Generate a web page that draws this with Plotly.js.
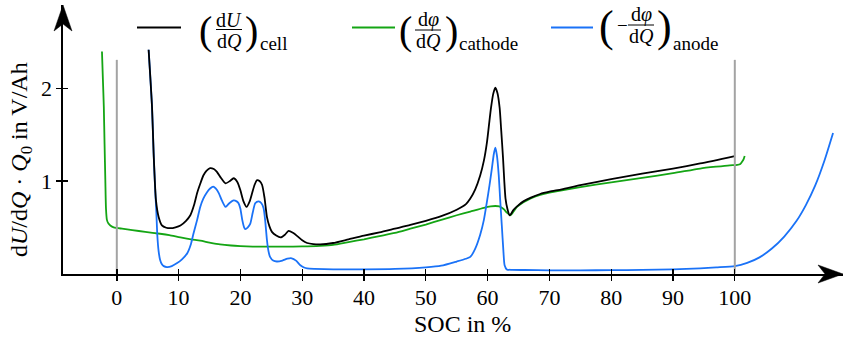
<!DOCTYPE html>
<html>
<head>
<meta charset="utf-8">
<script src="https://cdn.plot.ly/plotly-3.0.1.min.js"></script>
<style>
  html, body { margin: 0; padding: 0; background: #fff; }
  #chart { width: 844px; height: 339px; }
</style>
</head>
<body>
<div id="chart"></div>
<script>
// Differential voltage curves over state of charge (SOC in %)

// cell: dU/dQ
const cellSoc = [5.15, 5.7, 5.96, 6.34, 6.77, 7.3, 8.0, 8.7, 9.5, 10.3, 11.2, 11.9, 12.5, 13.0, 13.5, 14.0, 14.5, 15.1, 15.7, 16.2, 16.9, 17.6, 18.3, 18.9, 19.5, 20.0, 20.5, 21.0, 21.5, 21.9, 22.3, 22.7, 23.1, 23.5, 23.9, 24.3, 24.7, 25.1, 25.8, 26.5, 27.2, 27.8, 28.5, 29.2, 30.0, 30.8, 31.8, 32.9, 35, 37.5, 40, 42.5, 45, 47.5, 50, 52.5, 55, 56.5, 57.2, 58.0, 58.8, 59.4, 59.9, 60.3, 60.55, 60.9, 61.25, 61.6, 61.95, 62.2, 62.5, 62.7, 62.9, 63.2, 63.55, 63.8, 64.2, 65.0, 65.8, 67, 68.5, 70, 72, 75, 80, 85, 90, 94.4, 100];
const cellVal = [2.42, 1.80, 1.30, 0.79, 0.61, 0.52, 0.495, 0.49, 0.50, 0.52, 0.57, 0.63, 0.74, 0.87, 0.97, 1.06, 1.11, 1.14, 1.13, 1.10, 1.03, 0.975, 1.0, 1.03, 0.99, 0.90, 0.78, 0.72, 0.78, 0.87, 0.96, 1.01, 1.00, 0.96, 0.82, 0.61, 0.51, 0.45, 0.41, 0.39, 0.42, 0.46, 0.44, 0.405, 0.36, 0.33, 0.318, 0.315, 0.33, 0.37, 0.41, 0.445, 0.485, 0.525, 0.57, 0.62, 0.69, 0.75, 0.81, 0.91, 1.06, 1.22, 1.42, 1.65, 1.79, 1.94, 2.01, 1.95, 1.79, 1.55, 1.245, 1.0, 0.81, 0.70, 0.63, 0.645, 0.69, 0.74, 0.78, 0.82, 0.86, 0.885, 0.91, 0.955, 1.02, 1.08, 1.135, 1.19, 1.27];

// cathode: dphi/dQ
const cathodeSoc = [-2.4, -2.25, -2.1, -1.98, -1.86, -1.75, -1.6, -1.35, -1.05, -0.5, 0.84, 2.5, 4.6, 7.0, 8.5, 10.3, 12.0, 13.5, 15.0, 16.7, 18.5, 20, 22, 24.3, 27, 30, 32.9, 35, 37.5, 40, 42.5, 45, 47.5, 50, 52.5, 55, 57.2, 59.4, 60.5, 61.25, 61.9, 62.3, 62.7, 63.1, 63.7, 64.2, 64.75, 65.8, 66.9, 68.5, 70, 75, 80, 85, 90, 94.4, 97, 99.2, 100.4, 100.9, 101.2, 101.45, 101.6];
const cathodeVal = [2.40, 2.10, 1.80, 1.40, 1.02, 0.70, 0.58, 0.54, 0.52, 0.50, 0.485, 0.47, 0.45, 0.43, 0.415, 0.39, 0.37, 0.355, 0.335, 0.315, 0.303, 0.297, 0.292, 0.29, 0.29, 0.293, 0.30, 0.31, 0.34, 0.37, 0.405, 0.44, 0.485, 0.53, 0.58, 0.63, 0.67, 0.71, 0.725, 0.73, 0.725, 0.71, 0.69, 0.66, 0.63, 0.67, 0.72, 0.77, 0.81, 0.85, 0.875, 0.935, 0.985, 1.035, 1.085, 1.135, 1.155, 1.17, 1.175, 1.185, 1.21, 1.24, 1.27];

// anode: -dphi/dQ
const anodeSoc = [5.15, 5.7, 5.96, 6.2, 6.4, 6.55, 6.77, 7.0, 7.3, 7.6, 8.1, 8.9, 9.7, 10.5, 11.4, 12.0, 12.4, 13.0, 13.5, 14.0, 14.6, 15.1, 15.6, 16.0, 16.5, 17.0, 17.6, 18.2, 18.9, 19.4, 19.7, 20.0, 20.3, 20.6, 20.8, 21.2, 21.6, 22.0, 22.4, 22.95, 23.4, 23.75, 24.0, 24.3, 24.55, 24.8, 25.3, 25.9, 26.8, 27.6, 28.3, 29.0, 29.7, 30.3, 30.8, 32, 35, 40, 45, 50, 52.5, 55, 56.5, 57.2, 58.0, 58.8, 59.4, 59.9, 60.3, 60.7, 61.0, 61.25, 61.5, 61.8, 62.05, 62.3, 62.55, 62.75, 63.1, 64, 66, 70, 75, 80, 85, 90, 94.4, 97, 100, 102, 104, 106, 108, 110, 111.5, 113, 114.5, 115.9];
const anodeVal = [2.42, 1.80, 1.30, 0.92, 0.66, 0.42, 0.24, 0.15, 0.10, 0.08, 0.07, 0.08, 0.11, 0.15, 0.22, 0.32, 0.43, 0.58, 0.72, 0.81, 0.88, 0.92, 0.94, 0.92, 0.87, 0.79, 0.72, 0.76, 0.79, 0.78, 0.76, 0.70, 0.58, 0.50, 0.48, 0.50, 0.54, 0.66, 0.76, 0.78, 0.76, 0.705, 0.58, 0.36, 0.24, 0.18, 0.14, 0.13, 0.14, 0.16, 0.165, 0.14, 0.09, 0.065, 0.055, 0.05, 0.045, 0.045, 0.05, 0.067, 0.085, 0.13, 0.16, 0.18, 0.27, 0.42, 0.58, 0.78, 0.95, 1.14, 1.29, 1.36, 1.28, 1.065, 0.78, 0.52, 0.25, 0.09, 0.045, 0.04, 0.038, 0.035, 0.035, 0.036, 0.04, 0.045, 0.056, 0.066, 0.08, 0.115, 0.175, 0.27, 0.40, 0.57, 0.74, 0.95, 1.22, 1.52];

// SOC limits (0 % and 100 %) marked with grey verticals
const socLimits = [0, 100];
const limitTop = 2.31;

const xTicks = [0, 10, 20, 30, 40, 50, 60, 70, 80, 90, 100];
const yTicks = [1, 2];

const BLACK = '#000000';
const GREEN = '#14a514';
const BLUE = '#1a72f7';
const GREY = '#a3a3a3';
const SERIF = 'Liberation Serif, Times New Roman, serif';

// plot area in pixels
const W = 844, H = 339;
const M = { l: 63, r: 1, t: 5, b: 65 };
const PW = W - M.l - M.r, PH = H - M.t - M.b;
const px = (x) => (x - M.l) / PW;
const py = (y) => (H - M.b - y) / PH;

const limX = [], limY = [];
socLimits.forEach((s, i) => {
  if (i) { limX.push(null); limY.push(null); }
  limX.push(s, s); limY.push(0, limitTop);
});

const curve = (color) => ({ color: color, width: 1.8, shape: 'spline', smoothing: 0.6 });
const traces = [
  { x: limX, y: limY, xaxis: 'x2', yaxis: 'y2', mode: 'lines', line: { color: GREY, width: 2 }, hoverinfo: 'skip' },
  { x: cathodeSoc, y: cathodeVal, mode: 'lines', line: curve(GREEN) },
  { x: anodeSoc, y: anodeVal, mode: 'lines', line: curve(BLUE) },
  { x: cellSoc, y: cellVal, mode: 'lines', line: curve(BLACK) }
];

const xLo = -(116.8 - M.l) / 6.18;
const xRange = [xLo, xLo + PW / 6.18];
const yRange = [-0.005, -0.005 + PH / 92.5];

const baseAxis = {
  showgrid: false, zeroline: false, showline: true, linecolor: BLACK, linewidth: 1.6,
  ticks: 'outside', ticklen: 5, tickwidth: 1.4, tickcolor: BLACK,
  tickfont: { family: SERIF, size: 22, color: BLACK }, fixedrange: true
};

// legend entries: sample line, bracketed fraction, subscript
const ann = [];
const shapes = [];
function text(txt, x, y, size, xa, ya) {
  ann.push({ xref: 'paper', yref: 'paper', x: px(x), y: py(y), text: txt, showarrow: false,
    xanchor: xa || 'center', yanchor: ya || 'middle', borderpad: 0,
    font: { family: SERIF, size: size, color: BLACK } });
}
function legendItem(o) {
  shapes.push({ type: 'line', xref: 'paper', yref: 'paper', x0: px(o.x0), x1: px(o.x1), y0: py(27.5), y1: py(27.5), line: { color: o.color, width: 1.8 } });
  text('(', o.lp, o.fy + 1, o.ps);
  text(')', o.rp, o.fy + 1, o.ps);
  if (o.minus) text('\u2212', o.minus, o.fy, 19);
  text(o.numer, o.nx, o.fy + 2, 20, 'center', 'bottom');
  text('d<i>Q</i>', o.nx, o.fy - 1, 20, 'center', 'top');
  shapes.push({ type: 'line', xref: 'paper', yref: 'paper', x0: px(o.nx - 13), x1: px(o.nx + 13), y0: py(o.fy), y1: py(o.fy), line: { color: BLACK, width: 1 } });
  text(o.sub, o.sx, 43, 19, 'left');
}
legendItem({ x0: 137, x1: 181, color: BLACK, lp: 205, numer: 'd<i>U</i>', nx: 229, fy: 29.5, rp: 251, sub: 'cell', sx: 259, ps: 40 });
legendItem({ x0: 352, x1: 395, color: GREEN, lp: 405, numer: 'd<i>\u03c6</i>', nx: 428, fy: 30, rp: 451, sub: 'cathode', sx: 458, ps: 40 });
legendItem({ x0: 551, x1: 593, color: BLUE, lp: 606, numer: 'd<i>\u03c6</i>', nx: 641, fy: 25, rp: 664, sub: 'anode', sx: 672, ps: 44, minus: 622 });

// axis titles
text('SOC in %', 463, 324, 24);
ann.push({ xref: 'paper', yref: 'paper', x: px(21), y: py(160), text: 'd<i>U</i>/d<i>Q</i> \u00b7 <i>Q</i><sub>0</sub> in V/Ah', textangle: -90, showarrow: false, xanchor: 'center', yanchor: 'middle', font: { family: SERIF, size: 24, color: BLACK } });

// arrow heads at the axis ends
shapes.push({ type: 'path', xref: 'paper', yref: 'paper', xsizemode: 'pixel', ysizemode: 'pixel', xanchor: 1, yanchor: 0,
  path: 'M0,0 L-25,9 L-18,0 L-25,-9 Z', fillcolor: BLACK, line: { color: BLACK, width: 0.5 } });
shapes.push({ type: 'path', xref: 'paper', yref: 'paper', xsizemode: 'pixel', ysizemode: 'pixel', xanchor: 0, yanchor: 1,
  path: 'M0,0 L-9,-26 L0,-19 L9,-26 Z', fillcolor: BLACK, line: { color: BLACK, width: 0.5 } });

const layout = {
  width: W, height: H,
  margin: M,
  paper_bgcolor: '#fff', plot_bgcolor: '#fff',
  font: { family: SERIF, color: BLACK },
  showlegend: false,
  xaxis: Object.assign({}, baseAxis, { range: xRange, tickvals: xTicks, ticktext: xTicks.map(String), ticklabelstandoff: -2 }),
  yaxis: Object.assign({}, baseAxis, { range: yRange, tickvals: yTicks, ticktext: yTicks.map(String) }),
  xaxis2: Object.assign({}, baseAxis, { overlaying: 'x', matches: 'x', anchor: 'y2', ticks: 'inside', showticklabels: false, tickvals: xTicks }),
  yaxis2: Object.assign({}, baseAxis, { overlaying: 'y', matches: 'y', anchor: 'x2', ticks: 'inside', showticklabels: false, tickvals: yTicks }),
  annotations: ann,
  shapes: shapes
};

Plotly.newPlot('chart', traces, layout, { displayModeBar: false, staticPlot: true });
</script>
</body>
</html>
